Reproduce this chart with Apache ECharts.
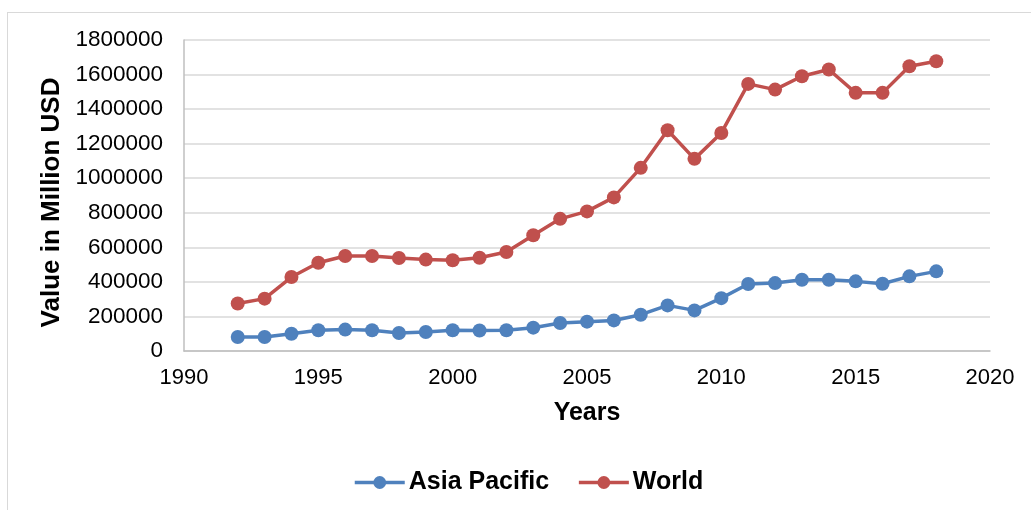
<!DOCTYPE html>
<html>
<head>
<meta charset="utf-8">
<script src="https://cdn.jsdelivr.net/npm/echarts@6/dist/echarts.min.js"></script>
<style>
html,body{margin:0;padding:0;background:#fff;}
#frame{position:absolute;left:7px;top:12px;width:1100px;height:600px;border-left:1px solid #d9d9d9;border-top:1px solid #d9d9d9;}
#chart{position:absolute;left:0;top:0;width:1031px;height:510px;}
</style>
</head>
<body>
<div id="frame"></div>
<div id="chart"></div>
<script>
const years = [1992,1993,1994,1995,1996,1997,1998,1999,2000,2001,2002,2003,2004,2005,2006,2007,2008,2009,2010,2011,2012,2013,2014,2015,2016,2017,2018];
const asiaPacific = [81000,81000,100000,120000,124000,120000,104000,110000,120000,119000,120000,135000,162000,170000,177000,210000,264000,235000,306000,388000,393000,412000,412000,403000,389000,432000,461000];
const world = [275000,303000,428000,511000,550000,550000,538000,529000,525000,540000,573000,670000,765000,808000,889000,1060000,1278000,1112000,1262000,1546000,1513000,1590000,1629000,1494000,1494000,1648000,1677000];
const seriesNames = ['Asia Pacific','World'];

const chart = echarts.init(document.getElementById('chart'));
const font = 'Liberation Sans, Arial, sans-serif';
function pairs(vals){ return years.map((y,i)=>[y, vals[i]]); }
chart.setOption({
  animation:false,
  grid:{left:184,right:41,top:40,bottom:159,containLabel:false},
  legend:{
    bottom:10, left:348, itemWidth:50, itemHeight:16, itemGap:28,
    textStyle:{fontFamily:font,fontSize:25,fontWeight:'bold',color:'#000',padding:[0,0,0,-1]},
    lineStyle:{width:3.5},
    data:seriesNames
  },
  xAxis:{
    type:'value', min:1990, max:2020, interval:5,
    name:'Years', nameLocation:'middle', nameGap:50,
    nameTextStyle:{fontFamily:font,fontSize:25,fontWeight:'bold',color:'#000'},
    axisLine:{show:true,lineStyle:{color:'#bfbfbf',width:1.5}},
    axisTick:{show:false},
    splitLine:{show:false},
    axisLabel:{fontFamily:font,fontSize:22,color:'#000',margin:16,formatter:v=>String(v)}
  },
  yAxis:{
    type:'value', min:0, max:1800000, interval:200000,
    name:'Value in Million USD', nameLocation:'middle', nameGap:112,
    nameTextStyle:{fontFamily:font,fontSize:26,fontWeight:'bold',color:'#000',padding:[0,14,0,0]},
    axisLine:{show:true,lineStyle:{color:'#bfbfbf',width:1.5}},
    axisTick:{show:false},
    splitLine:{show:true,lineStyle:{color:'#d9d9d9',width:1.5}},
    axisLabel:{fontFamily:font,fontSize:22.5,color:'#000',margin:21,formatter:v=>String(v)}
  },
  series:[
    {name:seriesNames[0],type:'line',data:pairs(asiaPacific),symbol:'circle',symbolSize:14,
     itemStyle:{color:'#4f81bd'},lineStyle:{color:'#4f81bd',width:3.5}},
    {name:seriesNames[1],type:'line',data:pairs(world),symbol:'circle',symbolSize:14,
     itemStyle:{color:'#c0504d'},lineStyle:{color:'#c0504d',width:3.5}}
  ]
});
</script>
</body>
</html>
